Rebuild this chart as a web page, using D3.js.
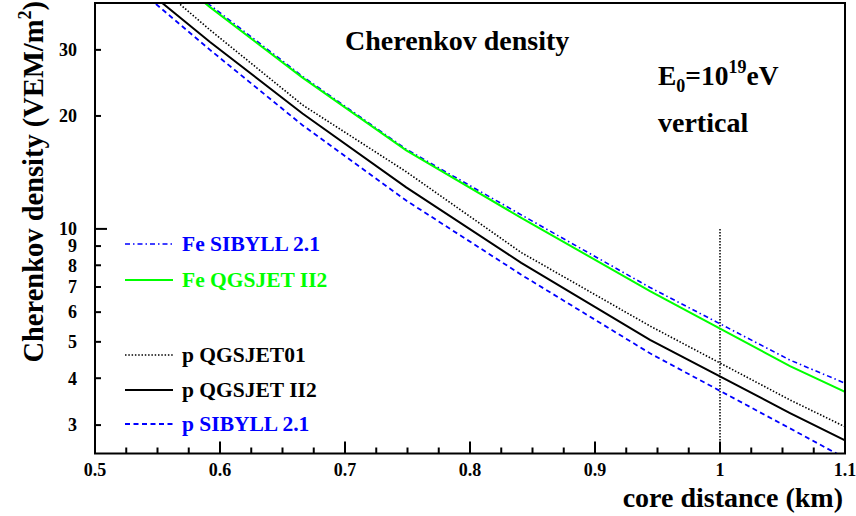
<!DOCTYPE html>
<html>
<head>
<meta charset="utf-8">
<script src="https://cdn.jsdelivr.net/npm/d3@7"></script>
<style>
  body { margin: 0; background: #fff; }
  svg text { font-family: "Liberation Serif", "Times New Roman", serif; font-weight: bold; }
</style>
</head>
<body>
<div id="viz"></div>
<script>
// core distance (km) where the simulated curves have their points
var coreDist = [0.528, 0.592, 0.666, 0.749, 0.841, 0.944, 1.056, 1.1];

// Cherenkov density (VEM/m^2) per model
var feSibyll = [59, 39.5, 25.5, 16.3, 10.9, 6.98, 4.47, 3.88];
var feQgsjet2 = [58, 39.0, 25.3, 16.2, 10.7, 6.83, 4.31, 3.68];
var pQgsjet01 = [51.6, 33.9, 21.4, 14.2, 8.65, 5.51, 3.50, 2.97];
var pQgsjet2 = [47, 31.5, 20.3, 12.9, 8.12, 5.06, 3.23, 2.73];
var pSibyll = [45.5, 30.0, 18.9, 11.9, 7.55, 4.66, 2.94, 2.45];

var xTicks = [0.5, 0.6, 0.7, 0.8, 0.9, 1, 1.1];
var yTicks = [3, 4, 5, 6, 7, 8, 9, 10, 20, 30];

var W = 856, H = 516;
var pL = 95, pR = 845, pT = 3, pB = 453.5;

var x = d3.scaleLinear().domain([0.5, 1.1]).range([pL, pR]);
var y = d3.scaleLog().domain([2.52, 40]).range([pB, pT]);

var svg = d3.select("#viz").append("svg")
    .attr("width", W)
    .attr("height", H);

svg.append("clipPath").attr("id", "plotclip")
  .append("rect")
    .attr("x", pL).attr("y", pT)
    .attr("width", pR - pL).attr("height", pB - pT);

var series = [
  {name: "Fe SIBYLL 2.1", vals: feSibyll, color: "#0000ff", dash: "5,3,1.5,3", w: 1.6, ly: 244},
  {name: "Fe QGSJET II2", vals: feQgsjet2, color: "#00ff00", dash: null, w: 2, ly: 280},
  {name: "p QGSJET01", vals: pQgsjet01, color: "#000000", dash: "1.5,1.8", w: 1.6, ly: 355},
  {name: "p QGSJET II2", vals: pQgsjet2, color: "#000000", dash: null, w: 2, ly: 390},
  {name: "p SIBYLL 2.1", vals: pSibyll, color: "#0000ff", dash: "5,3.5", w: 1.8, ly: 424}
];

var line = d3.line()
    .x(function(d) { return x(d[0]); })
    .y(function(d) { return y(d[1]); });

var plot = svg.append("g").attr("clip-path", "url(#plotclip)");

// dotted marker at 1 km
plot.append("line")
    .attr("x1", x(1)).attr("x2", x(1))
    .attr("y1", y(10)).attr("y2", pB)
    .attr("stroke", "#000").attr("stroke-width", 1.5)
    .attr("stroke-dasharray", "1.5,1.5");

series.forEach(function(s) {
  var pts = coreDist.map(function(r, i) { return [r, s.vals[i]]; });
  plot.append("path")
      .attr("d", line(pts))
      .attr("fill", "none")
      .attr("stroke", s.color)
      .attr("stroke-width", s.w)
      .attr("stroke-dasharray", s.dash);
});

// frame
svg.append("rect")
    .attr("x", pL).attr("y", pT)
    .attr("width", pR - pL).attr("height", pB - pT)
    .attr("fill", "none").attr("stroke", "#000").attr("stroke-width", 2);

// x ticks, major every 0.1, minor every 0.025
var minorX = d3.range(0, 25).map(function(i) { return 0.5 + i * 0.025; });
svg.selectAll(".xtick").data(minorX).enter().append("line")
    .attr("x1", function(d) { return x(d); })
    .attr("x2", function(d) { return x(d); })
    .attr("y1", pB)
    .attr("y2", function(d, i) { return i % 4 == 0 ? pB - 12 : pB - 6; })
    .attr("stroke", "#000").attr("stroke-width", 2);

svg.selectAll(".xlab").data(xTicks).enter().append("text")
    .attr("x", function(d) { return x(d); })
    .attr("y", 476)
    .attr("text-anchor", "middle")
    .style("font-size", "18px")
    .text(function(d) { return d; });

// y ticks
svg.selectAll(".ytick").data(yTicks).enter().append("line")
    .attr("x1", pL)
    .attr("x2", function(d) { return d == 10 ? pL + 12 : pL + 6; })
    .attr("y1", function(d) { return y(d); })
    .attr("y2", function(d) { return y(d); })
    .attr("stroke", "#000").attr("stroke-width", 2);

svg.selectAll(".ylab").data(yTicks).enter().append("text")
    .attr("x", 77)
    .attr("y", function(d) { return y(d); })
    .attr("dy", "0.35em")
    .attr("text-anchor", "end")
    .style("font-size", "18px")
    .text(function(d) { return d; });

// axis titles
svg.append("text")
    .attr("x", 843).attr("y", 507)
    .attr("text-anchor", "end")
    .style("font-size", "28px")
    .text("core distance (km)");

var yt = svg.append("text")
    .attr("transform", "translate(43,1) rotate(-90)")
    .attr("text-anchor", "end")
    .style("font-size", "28.5px");
yt.append("tspan").text("Cherenkov density (VEM/m");
yt.append("tspan").attr("dy", -12).style("font-size", "18px").text("2");
yt.append("tspan").attr("dy", 12).text(")");

// annotations
svg.append("text")
    .attr("x", 345).attr("y", 50)
    .style("font-size", "28px")
    .text("Cherenkov density");

var e0 = svg.append("text")
    .attr("x", 658).attr("y", 85)
    .style("font-size", "27.5px");
e0.append("tspan").text("E");
e0.append("tspan").attr("dy", 7).style("font-size", "18px").text("0");
e0.append("tspan").attr("dy", -7).text("=10");
e0.append("tspan").attr("dy", -12).style("font-size", "18px").text("19");
e0.append("tspan").attr("dy", 12).text("eV");

svg.append("text")
    .attr("x", 658).attr("y", 132)
    .style("font-size", "28px")
    .text("vertical");

// legend
var leg = svg.selectAll(".leg").data(series).enter().append("g");
leg.append("line")
    .attr("x1", 125).attr("x2", 173)
    .attr("y1", function(d) { return d.ly; })
    .attr("y2", function(d) { return d.ly; })
    .attr("stroke", function(d) { return d.color; })
    .attr("stroke-width", function(d) { return d.w; })
    .attr("stroke-dasharray", function(d) { return d.dash; });
leg.append("text")
    .attr("x", 182)
    .attr("y", function(d) { return d.ly + 7; })
    .attr("fill", function(d) { return d.color; })
    .style("font-size", "21.5px")
    .text(function(d) { return d.name; });
</script>
</body>
</html>
